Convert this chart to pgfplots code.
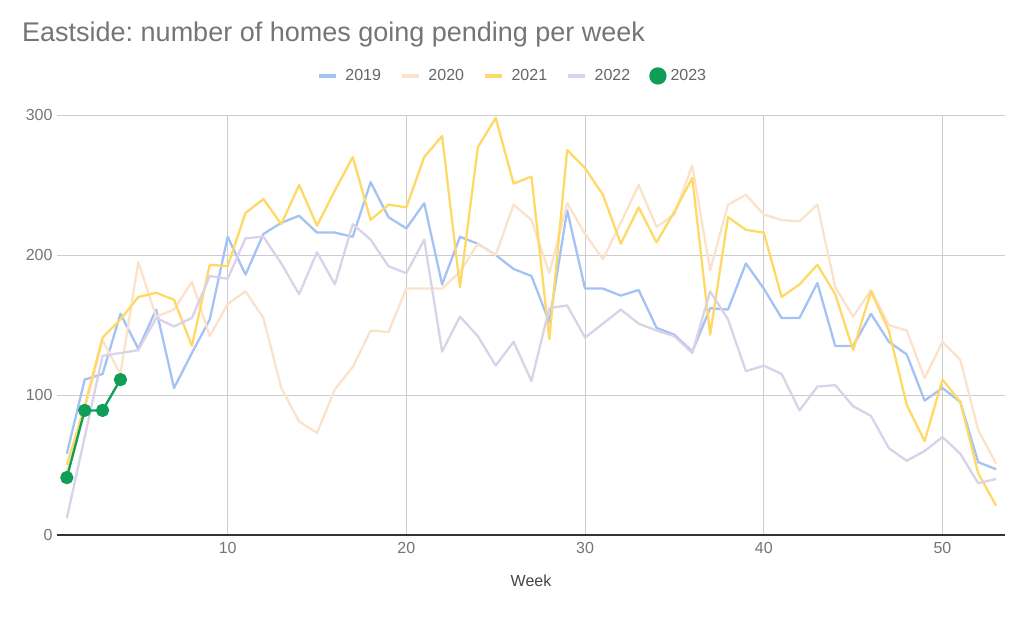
\documentclass[border=0pt]{standalone}
\usepackage{fontspec}
\setmainfont{Liberation Sans}
\usepackage{pgfplots}
\pgfplotsset{compat=1.18}
\definecolor{c19}{HTML}{A4C2F4}
\definecolor{c20}{HTML}{FBE2CB}
\definecolor{c21}{HTML}{FFD966}
\definecolor{c22}{HTML}{D9D2E9}
\definecolor{c23}{HTML}{0F9D58}
\definecolor{tgrey}{HTML}{757575}
\definecolor{lgrey}{HTML}{444444}
\definecolor{leggrey}{HTML}{666666}
\definecolor{gridc}{HTML}{CCCCCC}
\frenchspacing
\begin{document}
\begin{tikzpicture}
\path[use as bounding box] (0,0) rectangle (1024pt,621pt);
\node[anchor=base west, inner sep=0pt, text=tgrey, font=\fontsize{27}{32}\selectfont] at (22pt,579pt) {Eastside: number of homes going pending per week};
\begin{axis}[
  at={(57pt,86pt)}, anchor=south west,
  scale only axis, width=948pt, height=420pt,
  xmin=0.45, xmax=53.5, ymin=0, ymax=300,
  axis x line=bottom, axis y line=left,
  x axis line style={draw=black!80, line width=1.6pt, -},
  y axis line style={draw=none},
  xtick={10,20,30,40,50}, ytick={0,100,200,300},
  major tick length=0pt,
  grid=major, major grid style={draw=gridc, line width=0.9pt},
  ticklabel style={font=\fontsize{16}{19}\selectfont, text=tgrey},
  /pgf/number format/assume math mode=true,
  yticklabel style={xshift=-1pt},
  xticklabel style={yshift=-4pt},
  xlabel={Week},
  xlabel style={font=\fontsize{16}{19}\selectfont, text=lgrey, yshift=-14pt},
  legend columns=5,
  legend style={at={(axis description cs:0.4805,1.093)}, anchor=center, draw=none, fill=none,
    font=\fontsize{16}{19}\selectfont, text=leggrey,
    /tikz/every even column/.append style={column sep=17pt}},
  legend image code/.code={\draw[line width=4.5pt,#1] (0pt,0pt) -- (17pt,0pt);},
  line join=round,
]
\addplot[c19, line width=2.3pt] coordinates {
(1,58)(2,111)(3,115)(4,158)(5,133)(6,161)(7,105)(8,130)(9,154)(10,213)
(11,186)(12,215)(13,223)(14,228)(15,216)(16,216)(17,213)(18,252)(19,227)(20,219)
(21,237)(22,179)(23,213)(24,208)(25,200)(26,190)(27,185)(28,152)(29,232)(30,176)
(31,176)(32,171)(33,175)(34,148)(35,143)(36,131)(37,162)(38,161)(39,194)(40,176)
(41,155)(42,155)(43,180)(44,135)(45,135)(46,158)(47,138)(48,129)(49,96)(50,105)
(51,95)(52,52)(53,47)};
\addlegendentry{\hspace{5pt}2019}
\addplot[c20, line width=2.3pt] coordinates {
(1,45)(2,90)(3,139)(4,115)(5,195)(6,156)(7,161)(8,181)(9,142)(10,165)
(11,174)(12,155)(13,105)(14,81)(15,73)(16,104)(17,120)(18,146)(19,145)(20,176)
(21,176)(22,176)(23,188)(24,208)(25,200)(26,236)(27,225)(28,187)(29,237)(30,215)
(31,197)(32,223)(33,250)(34,220)(35,229)(36,264)(37,189)(38,236)(39,243)(40,229)
(41,225)(42,224)(43,236)(44,177)(45,156)(46,175)(47,150)(48,146)(49,112)(50,138)
(51,125)(52,75)(53,51)};
\addlegendentry{\hspace{5pt}2020}
\addplot[c21, line width=2.3pt] coordinates {
(1,50)(2,92)(3,141)(4,154)(5,170)(6,173)(7,168)(8,135)(9,193)(10,192)
(11,230)(12,240)(13,222)(14,250)(15,221)(16,246)(17,270)(18,225)(19,236)(20,234)
(21,270)(22,285)(23,177)(24,277)(25,298)(26,251)(27,256)(28,140)(29,275)(30,262)
(31,243)(32,208)(33,234)(34,209)(35,231)(36,255)(37,143)(38,227)(39,218)(40,216)
(41,170)(42,179)(43,193)(44,172)(45,132)(46,174)(47,146)(48,93)(49,67)(50,111)
(51,95)(52,44)(53,21)};
\addlegendentry{\hspace{5pt}2021}
\addplot[c22, line width=2.3pt] coordinates {
(1,12)(2,70)(3,128)(4,130)(5,132)(6,155)(7,149)(8,155)(9,185)(10,183)
(11,212)(12,213)(13,194)(14,172)(15,202)(16,179)(17,222)(18,211)(19,192)(20,187)
(21,211)(22,131)(23,156)(24,142)(25,121)(26,138)(27,110)(28,162)(29,164)(30,141)
(31,151)(32,161)(33,151)(34,146)(35,142)(36,130)(37,174)(38,154)(39,117)(40,121)
(41,115)(42,89)(43,106)(44,107)(45,92)(46,85)(47,62)(48,53)(49,60)(50,70)
(51,58)(52,37)(53,40)};
\addlegendentry{\hspace{5pt}2022}
\addplot[c23, line width=2.3pt, mark=*, mark size=5.5pt, mark options={fill=c23, draw=c23},
  legend image code/.code={\fill[c23] (8.5pt,0pt) circle (7.5pt);}] coordinates {
(1,41)(2,89)(3,89)(4,111)};
\addlegendentry{\hspace{2pt}2023}
\end{axis}
\end{tikzpicture}
\end{document}
